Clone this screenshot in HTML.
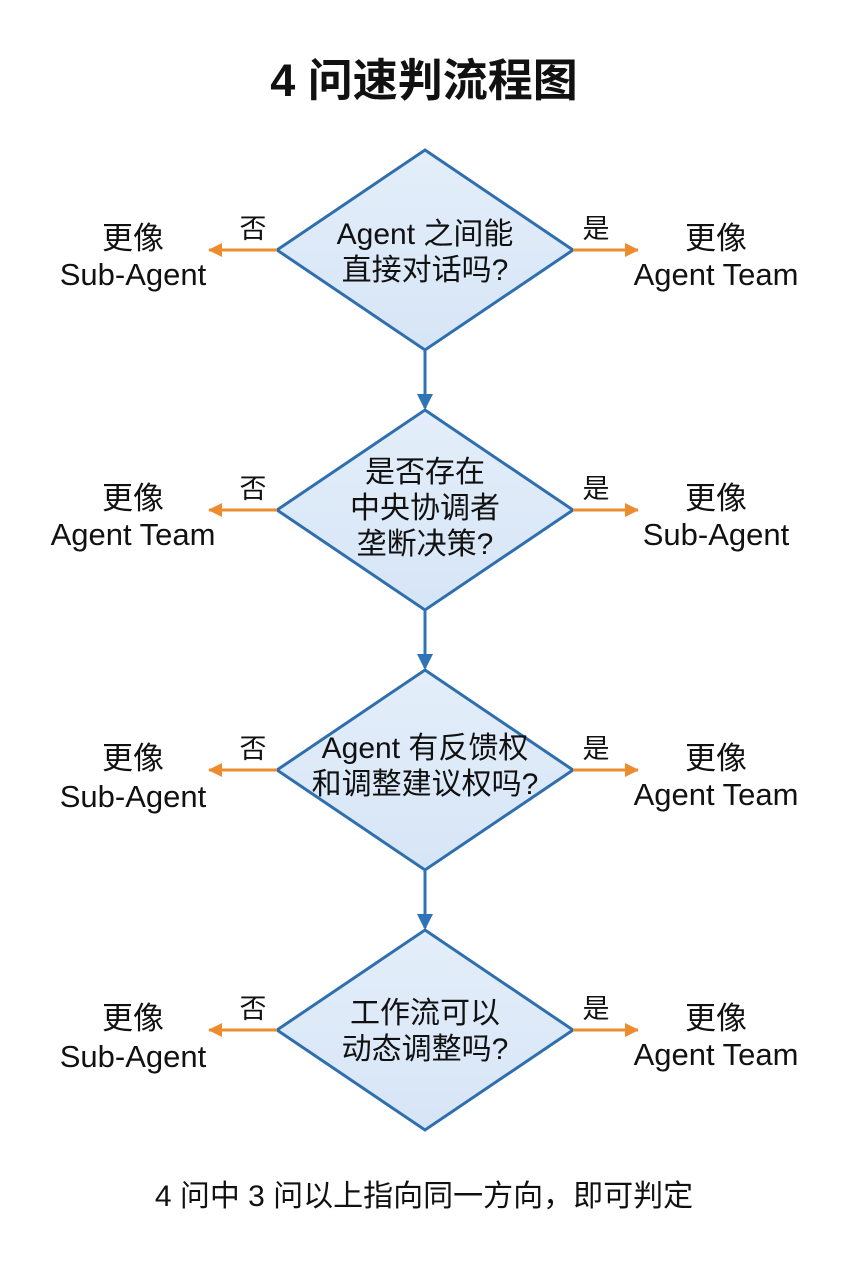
<!DOCTYPE html>
<html><head><meta charset="utf-8"><style>
html,body{margin:0;padding:0;background:#fff;}
svg{display:block;}
text{font-family:"Liberation Sans","Noto Sans CJK SC",sans-serif;fill:#111;}
</style></head><body>
<svg width="848" height="1264" viewBox="0 0 848 1264" xmlns="http://www.w3.org/2000/svg">
<defs>
<linearGradient id="g" x1="0" y1="0" x2="0" y2="1"><stop offset="0" stop-color="#e4eefa"/><stop offset="1" stop-color="#d6e5f6"/></linearGradient>
<marker id="bo" markerWidth="14" markerHeight="14" refX="13" refY="7" orient="auto" markerUnits="userSpaceOnUse"><path d="M0,0 L14,7 L0,14 z" fill="#ed8b2f"/></marker>
<marker id="bb" markerWidth="16" markerHeight="16" refX="14" refY="8" orient="auto" markerUnits="userSpaceOnUse"><path d="M0,0 L16,8 L0,16 z" fill="#2f74b5"/></marker>
</defs>
<text x="424" y="96" font-size="45" font-weight="bold" text-anchor="middle">4 问速判流程图</text>

<g stroke="#2f6fad" stroke-width="3" fill="url(#g)">
<polygon points="425,150 573,250 425,350 277,250"/>
<polygon points="425,410 573,510 425,610 277,510"/>
<polygon points="425,670 573,770 425,870 277,770"/>
<polygon points="425,930 573,1030 425,1130 277,1030"/>
</g>
<g stroke="#2f74b5" stroke-width="3">
<line x1="425" y1="350" x2="425" y2="408" marker-end="url(#bb)"/>
<line x1="425" y1="610" x2="425" y2="668" marker-end="url(#bb)"/>
<line x1="425" y1="870" x2="425" y2="928" marker-end="url(#bb)"/>
</g>
<g stroke="#ed8b2f" stroke-width="3">
<line x1="277" y1="250" x2="209" y2="250" marker-end="url(#bo)"/>
<line x1="573" y1="250" x2="638" y2="250" marker-end="url(#bo)"/>
<line x1="277" y1="510" x2="209" y2="510" marker-end="url(#bo)"/>
<line x1="573" y1="510" x2="638" y2="510" marker-end="url(#bo)"/>
<line x1="277" y1="770" x2="209" y2="770" marker-end="url(#bo)"/>
<line x1="573" y1="770" x2="638" y2="770" marker-end="url(#bo)"/>
<line x1="277" y1="1030" x2="209" y2="1030" marker-end="url(#bo)"/>
<line x1="573" y1="1030" x2="638" y2="1030" marker-end="url(#bo)"/>
</g>
<g font-size="27" text-anchor="middle">
<text x="253" y="238">否</text><text x="596" y="238">是</text>
<text x="253" y="498">否</text><text x="596" y="498">是</text>
<text x="253" y="758">否</text><text x="596" y="758">是</text>
<text x="253" y="1018">否</text><text x="596" y="1018">是</text>
</g>
<g font-size="31" text-anchor="middle">
<text x="133" y="249">更像</text><text x="133" y="285">Sub-Agent</text>
<text x="716" y="249">更像</text><text x="716" y="285">Agent Team</text>
<text x="133" y="509">更像</text><text x="133" y="545">Agent Team</text>
<text x="716" y="509">更像</text><text x="716" y="545">Sub-Agent</text>
<text x="133" y="769">更像</text><text x="133" y="807">Sub-Agent</text>
<text x="716" y="769">更像</text><text x="716" y="805">Agent Team</text>
<text x="133" y="1029">更像</text><text x="133" y="1067">Sub-Agent</text>
<text x="716" y="1029">更像</text><text x="716" y="1065">Agent Team</text>
</g>
<g font-size="30" text-anchor="middle">
<text x="425" y="244">Agent 之间能</text><text x="425" y="280">直接对话吗?</text>
<text x="425" y="482">是否存在</text><text x="425" y="518">中央协调者</text><text x="425" y="554">垄断决策?</text>
<text x="425" y="758">Agent 有反馈权</text><text x="425" y="794">和调整建议权吗?</text>
<text x="425" y="1023">工作流可以</text><text x="425" y="1059">动态调整吗?</text>
</g>
<text x="424" y="1206" font-size="30" text-anchor="middle">4 问中 3 问以上指向同一方向，即可判定</text>
</svg>
</body></html>
